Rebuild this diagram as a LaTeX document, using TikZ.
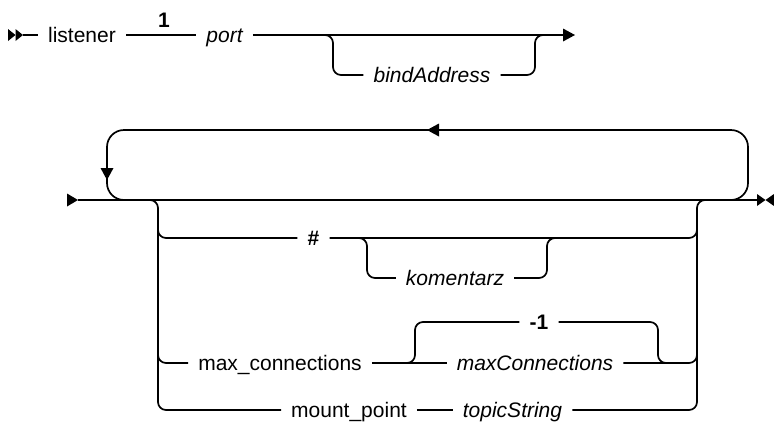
\documentclass[tikz,border=0pt]{standalone}
\usepackage{fontspec}
\setmainfont{Liberation Sans}
\begin{document}
\begin{tikzpicture}[x=1pt,y=-1pt]
\tikzset{
  rail/.style={line width=1.7pt, rounded corners=8pt},
  kw/.style={font=\fontsize{21}{24}\selectfont, inner xsep=10pt, inner ysep=0pt, text height=14pt, text depth=0pt},
  var/.style={kw, font=\fontsize{21}{24}\selectfont\itshape},
  bold/.style={kw, font=\fontsize{21}{24}\selectfont\bfseries},
  tip/.style={fill=black}
}
\useasboundingbox (0,0) rectangle (774,421);

% ---------- row 1 ----------
\node[kw]   (listener) at (82,35)  {listener};
\node[bold] (n1)       at (164,20) {1};
\node[var]  (port)     at (224.5,35) {port};
\node[var]  (bind)     at (432,75) {bindAddress};
\coordinate (s1) at (23,35);
\coordinate (e1) at (563,35);
\coordinate (b1l) at (320,35);
\coordinate (b1r) at (548,35);

\fill[tip] (8,29) -- (15.5,35) -- (8,41) -- cycle;
\fill[tip] (15.5,29) -- (23,35) -- (15.5,41) -- cycle;
\draw[rail] (s1) -- (listener.west);
\draw[rail] (listener.east) -- (port.west);
\draw[rail] (port.east) -- (e1);
\fill[tip] (563,28.5) -- (575,35) -- (563,41.5) -- cycle;
\draw[rail] (b1l) -| (333,75) -- (bind.west);
\draw[rail] (bind.east) -| (535,35) -- (b1r);

% ---------- row 2 ----------
\coordinate (s2) at (78,200);
\coordinate (e2) at (757,200);
\fill[tip] (67,193.5) -- (78,200) -- (67,206.5) -- cycle;
\draw[rail] (s2) -- (e2);
\fill[tip] (757,194) -- (765.5,200) -- (757,206) -- cycle;
\fill[tip] (774,194) -- (765.5,200) -- (774,206) -- cycle;

% repeat loop
\draw[rail, rounded corners=17pt] (720,200) -| (748,130) -| (107,200) -- (135,200);
\fill[tip] (427,130) -- (439,123.5) -- (439,136.5) -- cycle;
\fill[tip] (100.5,168) -- (107,180) -- (113.5,168) -- cycle;

% choices
\node[bold] (hash)  at (313.5,238) {\#};
\node[var]  (kom)   at (455,278)   {komentarz};
\node[kw]   (maxk)  at (280,363)   {max\_connections};
\node[bold] (m1)    at (539,322)   {-1};
\node[var]  (maxv)  at (535,363)   {maxConnections};
\node[kw]   (mount) at (349,410)   {mount\_point};
\node[var]  (topic) at (512.5,410) {topicString};

% left and right rails of the choice group
\draw[rail] (140,200) -| (158,410) -- (mount.west);
\draw[rail] (topic.east) -| (697,200) -- (712,200);

% # row
\draw[rail] (158,220) |- (hash.west);
\draw[rail] (hash.east) -| (697,220);
\draw[rail] (355,238) -| (367,278) -- (kom.west);
\draw[rail] (kom.east) -| (547,238) -- (560,238);

% max_connections row
\draw[rail] (158,340) |- (maxk.west);
\draw[rail] (maxk.east) -- (maxv.west);
\draw[rail] (maxv.east) -| (697,345);
\draw[rail] (400,363) -| (415,322) -- (m1.west);
\draw[rail] (m1.east) -| (658,363) -- (672,363);

% mount_point row
\draw[rail] (mount.east) -- (topic.west);
\end{tikzpicture}
\end{document}
